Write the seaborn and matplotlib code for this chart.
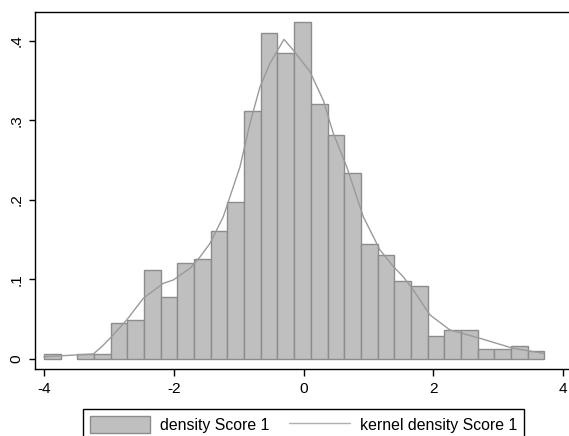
import numpy as np
import pandas as pd
import matplotlib
matplotlib.use("Agg")
import matplotlib.pyplot as plt
import seaborn as sns
from matplotlib.patches import Patch
from matplotlib.lines import Line2D

# ---- data ----
bin_start = -4.005
bin_width = 0.2572
bar_heights = [0.006, 0.0, 0.006, 0.006, 0.045, 0.049, 0.112, 0.078, 0.121, 0.125,
               0.161, 0.197, 0.312, 0.410, 0.384, 0.423, 0.321, 0.281, 0.233, 0.144,
               0.131, 0.098, 0.091, 0.029, 0.036, 0.036, 0.0126, 0.0126, 0.0156, 0.0097]

kde_x = [-4.005, -3.244, -3.115, -2.987, -2.73, -2.473, -2.165, -2.011, -1.753, -1.599,
         -1.445, -1.24, -0.982, -0.828, -0.674, -0.52, -0.304, -0.16, 0.097, 0.302,
         0.456, 0.663, 0.919, 1.177, 1.382, 1.536, 1.69, 1.948, 2.256, 2.719, 3.232, 3.71]
kde_y = [0.0025, 0.0059, 0.0151, 0.0256, 0.0487, 0.076, 0.0948, 0.099, 0.1137, 0.128,
         0.145, 0.1786, 0.2415, 0.296, 0.342, 0.3716, 0.4017, 0.388, 0.361, 0.325,
         0.2835, 0.2415, 0.1786, 0.1367, 0.116, 0.103, 0.0864, 0.055, 0.0361, 0.0256, 0.013, 0.0067]

x_ticks = [-4, -2, 0, 2, 4]
x_tick_labels = ["-4", "-2", "0", "2", "4"]
y_ticks = [0, 0.1, 0.2, 0.3, 0.4]
y_tick_labels = ["0", ".1", ".2", ".3", ".4"]
legend_labels = ["density Score 1", "kernel density Score 1"]

# ---- style ----
sns.set_style("ticks")
plt.rcParams["font.family"] = ["Liberation Sans", "DejaVu Sans"]
plt.rcParams["text.color"] = "black"
FS = 11.1
LFS = 11.4

bar_fill = "#bfbfbf"
bar_edge = "#8c8c8c"
line_col = "#9a9a9a"

W, H = 569, 436
fig = plt.figure(figsize=(W / 100, H / 100), dpi=100)
ax = fig.add_axes([34.7 / W, 1 - 369.3 / H, (572 - 34.7) / W, (369.3 - 12) / H])

n_bins = len(bar_heights)
edges = [bin_start + bin_width * i for i in range(n_bins + 1)]
centers = [(edges[i] + edges[i + 1]) / 2 for i in range(n_bins)]
df = pd.DataFrame({"x": centers, "w": bar_heights})
sns.histplot(data=df, x="x", weights="w", bins=edges, stat="count", ax=ax,
             color=bar_fill, edgecolor=bar_edge, linewidth=1.0, alpha=1.0)
for p in ax.patches:
    if p.get_height() <= 0:
        p.set_visible(False)

kd = pd.DataFrame({"x": kde_x, "y": kde_y})
sns.lineplot(data=kd, x="x", y="y", ax=ax, color=line_col, linewidth=1.0)

ax.set_xlim((34.7 - 303.7) / 64.85, (572 - 303.7) / 64.85)
ax.set_ylim((358.7 - 369.3) / 795, (358.7 - 12) / 795)

ax.set_xticks(x_ticks)
ax.set_xticklabels(x_tick_labels, fontsize=FS)
ax.set_yticks(y_ticks)
ax.set_yticklabels(y_tick_labels, fontsize=FS, rotation=90, va="center")
ax.tick_params(axis="x", length=5, width=1.0, pad=4.5, color="black", labelcolor="black")
ax.tick_params(axis="y", length=4.5, width=1.0, pad=3.5, color="black", labelcolor="black")
ax.set_xlabel("")
ax.set_ylabel("")
for s in ax.spines.values():
    s.set_linewidth(1.0)
    s.set_color("black")

handles = [Patch(facecolor=bar_fill, edgecolor=bar_edge, linewidth=1.0),
           Line2D([0], [0], color="#b0b0b0", linewidth=1.0)]
leg = fig.legend(handles, legend_labels, loc="upper left",
                 bbox_to_anchor=(82.7 / W, 1 - 409.3 / H), ncol=2, fontsize=LFS,
                 frameon=True, fancybox=False, edgecolor="black", framealpha=1,
                 handlelength=3.8, handleheight=1.2, handletextpad=0.65,
                 columnspacing=1.25, borderpad=0.45, borderaxespad=0)
leg.get_frame().set_linewidth(1.0)
for t in leg.get_texts():
    t.set_color("black")

fig.savefig("out.png", dpi=100)
